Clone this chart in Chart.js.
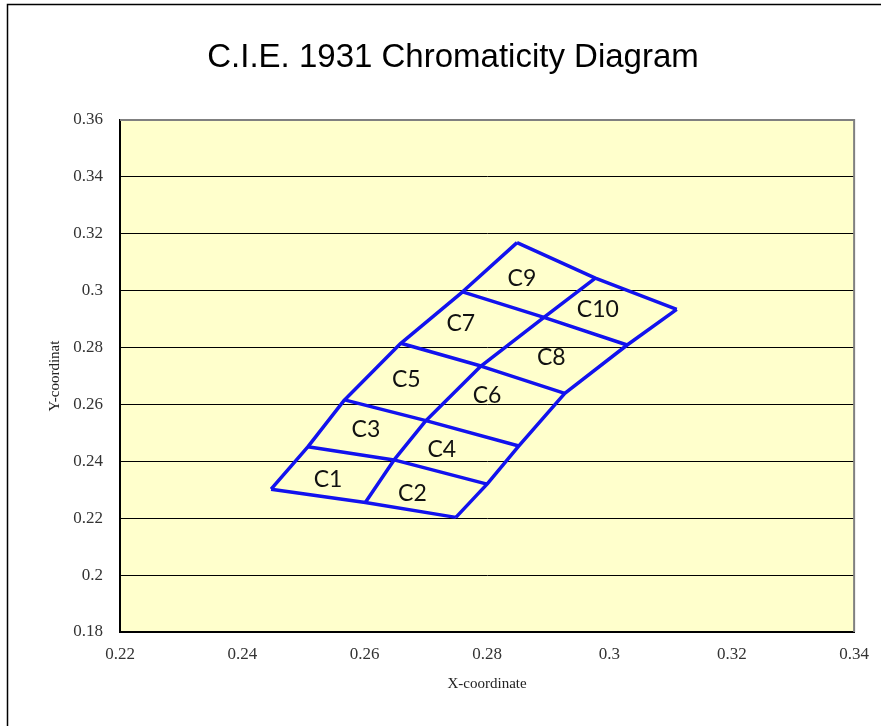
<!DOCTYPE html>
<html lang="en">
    <head>
        <meta charset="UTF-8" />
        <title>C.I.E. 1931 Chromaticity Diagram</title>
        <style>
            body {
                background: #fff;
                margin: 0;
                padding: 0;
            }
            canvas {
                display: block;
            }
        </style>
        <script src="https://cdn.jsdelivr.net/npm/chart.js"></script>
    </head>
    <body>
        <canvas id="chart" width="881" height="726"></canvas>
        <script>
            // axis ticks
            const xTicks = [0.22, 0.24, 0.26, 0.28, 0.3, 0.32, 0.34];
            const xTickLabels = ["0.22", "0.24", "0.26", "0.28", "0.3", "0.32", "0.34"];
            const yTicks = [0.18, 0.2, 0.22, 0.24, 0.26, 0.28, 0.3, 0.32, 0.34, 0.36];
            const yTickLabels = ["0.18", "0.2", "0.22", "0.24", "0.26", "0.28", "0.3", "0.32", "0.34", "0.36"];

            // grid corner points, bottom to top, for the left / middle / right edge
            const colAx = [0.2447, 0.2507, 0.2567, 0.2659, 0.276, 0.2849];
            const colAy = [0.2302, 0.2451, 0.2616, 0.2815, 0.2996, 0.3169];
            const colBx = [0.2601, 0.2648, 0.27, 0.279, 0.2893, 0.2977];
            const colBy = [0.2255, 0.2405, 0.2543, 0.2735, 0.2906, 0.3044];
            const colCx = [0.2749, 0.28, 0.2852, 0.2927, 0.3029, 0.311];
            const colCy = [0.2203, 0.232, 0.2454, 0.2639, 0.2809, 0.2934];

            // bin names and where they sit
            const cellNames = ["C1", "C2", "C3", "C4", "C5", "C6", "C7", "C8", "C9", "C10"];
            const cellX = [0.254, 0.2678, 0.2602, 0.2726, 0.2668, 0.28, 0.2757, 0.2905, 0.2857, 0.2981];
            const cellY = [0.2337, 0.2288, 0.2513, 0.244, 0.2689, 0.2631, 0.2883, 0.2766, 0.3044, 0.2934];

            const lineColor = "#1212ee";
            const datasets = [];

            // rows across the grid
            for (let r = 0; r < colAx.length; r++) {
                datasets.push({
                    data: [
                        { x: colAx[r], y: colAy[r] },
                        { x: colBx[r], y: colBy[r] },
                        { x: colCx[r], y: colCy[r] },
                    ],
                });
            }
            // the three long edges
            [[colAx, colAy], [colBx, colBy], [colCx, colCy]].forEach(([xs, ys]) => {
                datasets.push({ data: xs.map((x, i) => ({ x: x, y: ys[i] })) });
            });
            datasets.forEach((d) => {
                d.showLine = true;
                d.borderColor = lineColor;
                d.borderWidth = 3.5;
                d.pointRadius = 0;
                d.fill = false;
                d.borderJoinStyle = "round";
            });

            const decor = {
                id: "decor",
                beforeDraw(chart) {
                    const { ctx, chartArea: a } = chart;
                    ctx.save();
                    ctx.fillStyle = "#ffffcc";
                    ctx.fillRect(a.left, a.top, a.right - a.left, a.bottom - a.top);
                    ctx.restore();
                },
                beforeDatasetsDraw(chart) {
                    const { ctx, chartArea: a } = chart;
                    ctx.save();
                    ctx.strokeStyle = "#808080";
                    ctx.lineWidth = 2;
                    ctx.beginPath();
                    ctx.moveTo(a.left, a.top);
                    ctx.lineTo(a.right, a.top);
                    ctx.lineTo(a.right, a.bottom);
                    ctx.stroke();
                    ctx.restore();
                },
                afterDatasetsDraw(chart) {
                    const { ctx } = chart;
                    const xs = chart.scales.x;
                    const ys = chart.scales.y;
                    ctx.save();
                    ctx.fillStyle = "#111";
                    ctx.font = "23px Lato";
                    ctx.textAlign = "center";
                    ctx.textBaseline = "middle";
                    cellNames.forEach((name, i) => {
                        ctx.fillText(name, xs.getPixelForValue(cellX[i]), ys.getPixelForValue(cellY[i]));
                    });
                    ctx.restore();
                },
                afterDraw(chart) {
                    const { ctx } = chart;
                    ctx.save();
                    // outer frame (only top and left show)
                    ctx.strokeStyle = "#000";
                    ctx.lineWidth = 1.5;
                    ctx.beginPath();
                    ctx.moveTo(7.5, 726);
                    ctx.lineTo(7.5, 4.5);
                    ctx.lineTo(881, 4.5);
                    ctx.stroke();
                    // title
                    ctx.fillStyle = "#000";
                    ctx.font = "33px 'Liberation Sans'";
                    ctx.textAlign = "center";
                    ctx.textBaseline = "middle";
                    ctx.fillText("C.I.E. 1931 Chromaticity Diagram", 453, 58);
                    ctx.restore();
                },
            };

            const tickFont = { family: "'Liberation Serif'", size: 17 };
            const titleFont = { family: "'Liberation Serif'", size: 15 };

            new Chart(document.getElementById("chart"), {
                type: "scatter",
                data: { datasets: datasets },
                options: {
                    responsive: false,
                    animation: false,
                    layout: { padding: { top: 120, right: 25, left: 0, bottom: 0 } },
                    plugins: {
                        legend: { display: false },
                        tooltip: { enabled: false },
                        title: { display: false },
                    },
                    scales: {
                        x: {
                            type: "linear",
                            min: 0.22,
                            max: 0.34,
                            afterBuildTicks: (s) => {
                                s.ticks = xTicks.map((v) => ({ value: v }));
                            },
                            afterFit: (s) => {
                                s.height = 94;
                            },
                            ticks: {
                                color: "#333",
                                font: tickFont,
                                padding: 12,
                                maxRotation: 0,
                                callback: (v, i) => xTickLabels[i],
                            },
                            grid: { drawOnChartArea: false, drawTicks: false },
                            border: { display: true, color: "#000", width: 2 },
                            title: {
                                display: true,
                                text: "X-coordinate",
                                color: "#222",
                                font: titleFont,
                                padding: { top: 0, bottom: 33 },
                            },
                        },
                        y: {
                            type: "linear",
                            min: 0.18,
                            max: 0.36,
                            afterBuildTicks: (s) => {
                                s.ticks = yTicks.map((v) => ({ value: v }));
                            },
                            afterFit: (s) => {
                                s.width = 120;
                            },
                            ticks: {
                                color: "#333",
                                font: tickFont,
                                padding: 17,
                                callback: (v, i) => yTickLabels[i],
                            },
                            grid: { color: "#000", lineWidth: 1, drawTicks: false },
                            border: { display: true, color: "#000", width: 2 },
                            title: {
                                display: true,
                                text: "Y-coordinat",
                                color: "#222",
                                font: titleFont,
                                padding: { top: 46, bottom: 0 },
                            },
                        },
                    },
                },
                plugins: [decor],
            });
        </script>
    </body>
</html>
